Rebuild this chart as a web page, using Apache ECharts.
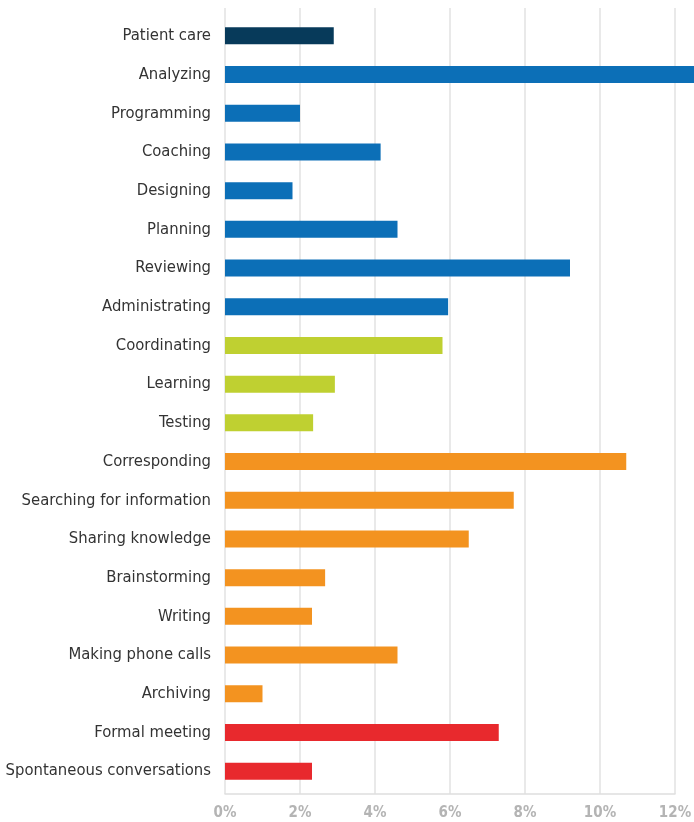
<!DOCTYPE html>
<html>
<head>
<meta charset="utf-8">
<script src="https://cdn.jsdelivr.net/npm/echarts@6/dist/echarts.min.js"></script>
<style>
  html, body { margin: 0; padding: 0; background: #fff; }
  #chart { width: 694px; height: 822px; }
</style>
</head>
<body>
<div id="chart"></div>
<script>
// Share of working time by activity (percent)
const categories = [
  'Patient care', 'Analyzing', 'Programming', 'Coaching', 'Designing',
  'Planning', 'Reviewing', 'Administrating', 'Coordinating', 'Learning',
  'Testing', 'Corresponding', 'Searching for information', 'Sharing knowledge',
  'Brainstorming', 'Writing', 'Making phone calls', 'Archiving',
  'Formal meeting', 'Spontaneous conversations'
];
const values = [
  2.9, 12.8, 2.0, 4.15, 1.8,
  4.6, 9.2, 5.95, 5.8, 2.93,
  2.35, 10.7, 7.7, 6.5,
  2.67, 2.32, 4.6, 1.0,
  7.3, 2.32
];
const groups = [
  'care', 'deep', 'deep', 'deep', 'deep',
  'deep', 'deep', 'deep', 'grow', 'grow',
  'grow', 'info', 'info', 'info',
  'info', 'info', 'info', 'info',
  'meet', 'meet'
];
const xTicks = [0, 2, 4, 6, 8, 10, 12];

const groupColors = {
  care: '#073a5a',
  deep: '#0c6fb7',
  grow: '#bfd031',
  info: '#f39320',
  meet: '#e8292d'
};

const font = '"Liberation Sans Narrow", "DejaVu Sans Condensed", sans-serif';
const xMin = xTicks[0];
const xMax = xTicks[xTicks.length - 1];

const chart = echarts.init(document.getElementById('chart'), null, { renderer: 'canvas' });
chart.setOption({
  animation: false,
  backgroundColor: '#ffffff',
  grid: [
    // frame: vertical gridlines, bottom axis and percent labels
    { left: 225, right: 19, top: 8, bottom: 28, containLabel: false, outerBoundsMode: 'none' },
    // bars and activity names
    { left: 225, right: 19, top: 16.5, bottom: 31.5, containLabel: false, outerBoundsMode: 'none' }
  ],
  xAxis: [{
    gridIndex: 0,
    type: 'value',
    min: xMin,
    max: xMax,
    interval: 2,
    axisLine: { show: true, lineStyle: { color: '#dedede', width: 1.5 } },
    axisTick: { show: false },
    splitLine: { show: true, lineStyle: { color: '#e2e2e2', width: 1.5 } },
    axisLabel: {
      formatter: v => v + '%',
      color: '#b4b4b4',
      fontFamily: font,
      fontWeight: 'bold',
      fontSize: 15,
      margin: 12
    }
  }, {
    gridIndex: 1,
    type: 'value',
    min: xMin,
    max: xMax,
    interval: 2,
    show: false
  }],
  yAxis: [{
    gridIndex: 0,
    type: 'category',
    data: [''],
    show: false
  }, {
    gridIndex: 1,
    type: 'category',
    inverse: true,
    data: categories,
    axisLine: { show: false },
    axisTick: { show: false },
    splitLine: { show: false },
    axisLabel: {
      color: '#333333',
      fontFamily: font,
      fontSize: 16.5,
      margin: 14
    }
  }],
  series: [{
    type: 'bar',
    xAxisIndex: 1,
    yAxisIndex: 1,
    clip: false,
    barWidth: 17,
    data: values.map((v, i) => ({
      value: v,
      itemStyle: { color: groupColors[groups[i]] }
    }))
  }]
});
</script>
</body>
</html>
